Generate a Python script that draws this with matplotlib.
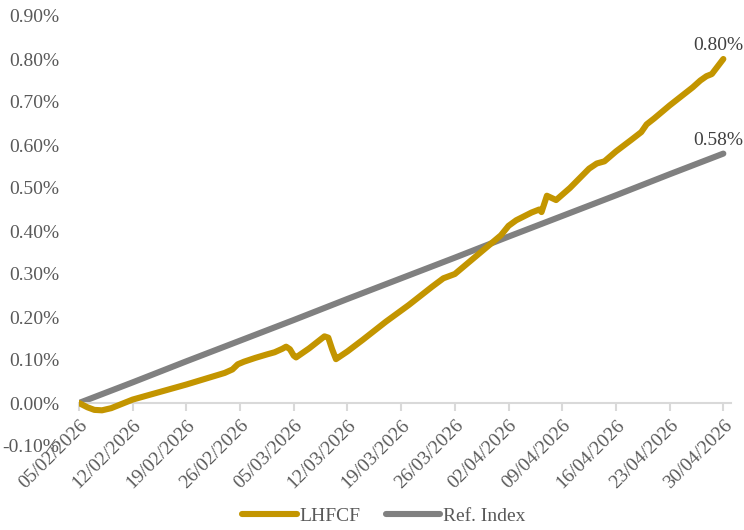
import matplotlib
matplotlib.use("Agg")
import matplotlib.pyplot as plt
import pandas as pd

plt.rcParams['font.family'] = ['Liberation Serif', 'DejaVu Serif']

start = pd.Timestamp("2026-02-05")
axis_end = pd.Timestamp("2026-05-01")

# LHFCF: day offset from 05/02/2026 and cumulative return in %
lhfcf_day = [0, 1.1, 2, 3, 4.2, 7, 14, 19, 20, 20.7, 21.5, 23, 24.5, 25.5, 26.5, 27,
             27.5, 28, 28.3, 30, 31.5, 32, 32.5, 33, 33.5, 34, 35, 37, 40, 43, 46,
             47.5, 49, 51, 53, 55, 56, 57, 59, 60, 60.3, 61, 62.2, 64, 66.5, 67.5,
             68.5, 70, 72, 73.3, 74, 75, 77, 80, 81, 81.8, 82.5, 84]
lhfcf_pct = [0.000, -0.010, -0.016, -0.017, -0.012, 0.008, 0.043, 0.070, 0.078, 0.090,
             0.096, 0.105, 0.113, 0.118, 0.126, 0.131, 0.125, 0.110, 0.106, 0.127,
             0.148, 0.155, 0.152, 0.125, 0.102, 0.108, 0.120, 0.147, 0.189, 0.228,
             0.270, 0.290, 0.300, 0.330, 0.360, 0.390, 0.412, 0.425, 0.443, 0.450,
             0.444, 0.482, 0.472, 0.500, 0.545, 0.557, 0.562, 0.585, 0.612, 0.630,
             0.648, 0.662, 0.692, 0.734, 0.750, 0.760, 0.765, 0.800]

# Ref. Index: weekly values in %
ref_day = [0, 7, 14, 21, 28, 35, 42, 49, 56, 63, 70, 77, 84]
ref_pct = [0.000, 0.048, 0.097, 0.145, 0.193, 0.242, 0.290, 0.338, 0.387, 0.435,
           0.483, 0.532, 0.580]

tick_labels = ["05/02/2026", "12/02/2026", "19/02/2026", "26/02/2026", "05/03/2026",
               "12/03/2026", "19/03/2026", "26/03/2026", "02/04/2026", "09/04/2026",
               "16/04/2026", "23/04/2026", "30/04/2026"]
y_ticks = [-0.1, 0.0, 0.1, 0.2, 0.3, 0.4, 0.5, 0.6, 0.7, 0.8, 0.9]

lh_dates = start + pd.to_timedelta(lhfcf_day, unit="D")
ref_dates = start + pd.to_timedelta(ref_day, unit="D")
tick_dates = pd.to_datetime(tick_labels, format="%d/%m/%Y")

gold = "#C39500"
grey = "#808080"
txt = "#595959"

fig = plt.figure(figsize=(7.44, 5.30), dpi=100)
ax = fig.add_axes([79/744, 84/530, 652/744, 430/530])

for s in ['top', 'right', 'left']:
    ax.spines[s].set_visible(False)
ax.spines['bottom'].set_position(('data', 0))
ax.spines['bottom'].set_color("#D9D9D9")
ax.spines['bottom'].set_linewidth(1.5)

ax.plot(lh_dates, lhfcf_pct, color=gold, lw=4.4, solid_joinstyle='round',
        solid_capstyle='round', label="LHFCF", zorder=3)
ax.plot(ref_dates, ref_pct, color=grey, lw=4.4, solid_capstyle='round',
        label="Ref. Index", zorder=2)

ax.set_xlim(start, axis_end)
ax.set_ylim(-0.1, 0.9)

ax.tick_params(axis='y', length=0, pad=14)
ax.tick_params(axis='x', length=6, width=1.5, color="#D9D9D9", pad=4)

ax.set_yticks(y_ticks)
ax.set_yticklabels([f"{v:.2f}%" for v in y_ticks], color=txt, fontsize=14)

ax.set_xticks(tick_dates)
ax.set_xticklabels(tick_labels, rotation=45, ha='right', va='top',
                   rotation_mode='anchor', color=txt, fontsize=14)

ax.annotate(f"{lhfcf_pct[-1]:.2f}%", (lh_dates[-1], lhfcf_pct[-1]), xytext=(-5, 5),
            textcoords='offset pixels', ha='center', va='bottom', color="#404040",
            fontsize=14, annotation_clip=False)
ax.annotate(f"{ref_pct[-1]:.2f}%", (ref_dates[-1], ref_pct[-1]), xytext=(-5, 5),
            textcoords='offset pixels', ha='center', va='bottom', color="#404040",
            fontsize=14, annotation_clip=False)

leg = fig.legend(loc='center', bbox_to_anchor=(384/744, 1 - 516/530), ncol=2,
                 frameon=False, fontsize=14, handlelength=2.8, handletextpad=0.15,
                 columnspacing=1.3, labelcolor=txt)
for h in leg.legend_handles:
    h.set_solid_capstyle('round')

fig.savefig("out.png", dpi=100)
